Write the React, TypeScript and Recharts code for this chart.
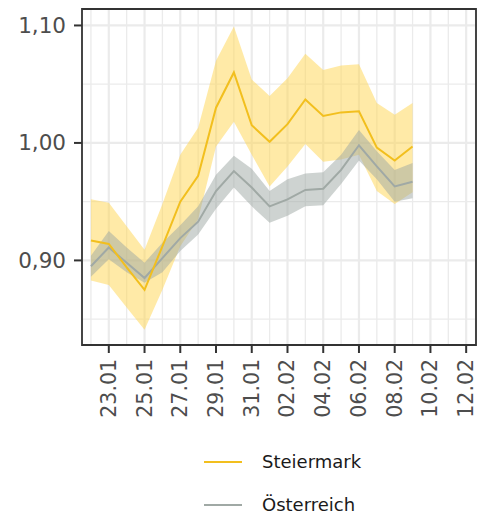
import React from "react";
import { ComposedChart, Area, Line, XAxis, YAxis, CartesianGrid, ReferenceArea } from "recharts";

// days since 22.01, labels for every day shown on the axis
const dayLabels = [
  "22.01", "23.01", "24.01", "25.01", "26.01", "27.01", "28.01", "29.01", "30.01", "31.01", "01.02",
  "02.02", "03.02", "04.02", "05.02", "06.02", "07.02", "08.02", "09.02", "10.02", "11.02", "12.02"
];

const steiermark = [0.917, 0.914, 0.894, 0.875, 0.912, 0.95, 0.972, 1.03, 1.06, 1.015, 1.001, 1.016, 1.037, 1.023, 1.026, 1.027, 0.996, 0.985, 0.997];
const steiermarkLo = [0.883, 0.879, 0.86, 0.841, 0.875, 0.912, 0.935, 0.997, 1.018, 0.99, 0.963, 0.98, 0.999, 0.984, 0.986, 0.99, 0.959, 0.948, 0.958];
const steiermarkHi = [0.952, 0.949, 0.929, 0.909, 0.948, 0.99, 1.013, 1.07, 1.099, 1.054, 1.04, 1.055, 1.076, 1.062, 1.066, 1.067, 1.034, 1.024, 1.034];

const oesterreich = [0.895, 0.911, 0.898, 0.885, 0.902, 0.919, 0.933, 0.959, 0.976, 0.962, 0.946, 0.952, 0.96, 0.961, 0.977, 0.998, 0.98, 0.963, 0.967];
const oesterreichLo = [0.886, 0.901, 0.89, 0.881, 0.89, 0.908, 0.922, 0.944, 0.962, 0.946, 0.932, 0.938, 0.946, 0.947, 0.965, 0.985, 0.969, 0.95, 0.953];
const oesterreichHi = [0.904, 0.925, 0.911, 0.898, 0.915, 0.93, 0.946, 0.973, 0.989, 0.978, 0.959, 0.969, 0.974, 0.975, 0.99, 1.011, 0.993, 0.977, 0.983];

const xDomain = [-0.5, 21.55];
const yDomain = [0.828, 1.114];
const yTicks = [0.85, 0.9, 0.95, 1.0, 1.05, 1.1];
const yLabelled = [0.9, 1.0, 1.1];

const data = steiermark.map((v, i) => ({
  day: i,
  stm: v,
  stmBand: [steiermarkLo[i], steiermarkHi[i]],
  oe: oesterreich[i],
  oeBand: [oesterreichLo[i], oesterreichHi[i]]
}));

const YELLOW = "#F2BF1E";
const GREY = "#A0A9A5";
const FONT = "'DejaVu Sans', sans-serif";

const XTick = ({ x, y, payload }: any) => {
  if (payload.value % 2 === 0) return null;
  return (
    <g>
      <line x1={x} x2={x} y1={y - 8} y2={y} stroke="#333" strokeWidth={2} />
      <text
        x={x}
        y={y + 6}
        transform={`rotate(-90, ${x}, ${y + 6})`}
        textAnchor="end"
        dominantBaseline="central"
        fontSize={20.5}
        fontFamily={FONT}
        fill="#4D4D4D"
      >
        {dayLabels[payload.value]}
      </text>
    </g>
  );
};

const YTick = ({ x, y, payload }: any) => {
  if (!yLabelled.some(t => Math.abs(t - payload.value) < 1e-6)) return null;
  return (
    <g>
      <line x1={x} x2={x + 8} y1={y} y2={y} stroke="#333" strokeWidth={2} />
      <text
        x={x - 8}
        y={y}
        textAnchor="end"
        dominantBaseline="central"
        fontSize={21.5}
        fontFamily={FONT}
        fill="#4D4D4D"
      >
        {payload.value.toFixed(2).replace(".", ",")}
      </text>
    </g>
  );
};

// major grid lines (labelled ticks) sit on odd indices for both axes
const gridLine = (props: any) => {
  const major = props.index % 2 === 1;
  return (
    <line
      key={props.key}
      x1={props.x1}
      y1={props.y1}
      x2={props.x2}
      y2={props.y2}
      stroke="#EBEBEB"
      strokeWidth={major ? 2.2 : 1.3}
    />
  );
};

const LegendRow = ({ color, label, top }: { color: string; label: string; top: number }) => (
  <div style={{ position: "absolute", left: 204, top, display: "flex", alignItems: "center" }}>
    <div style={{ width: 38, height: 2.5, backgroundColor: color }} />
    <span style={{ marginLeft: 20, fontSize: 18, fontFamily: FONT, color: "#1a1a1a", lineHeight: "20px" }}>
      {label}
    </span>
  </div>
);

export default function App() {
  return (
    <div style={{ position: "relative", width: 477, height: 517, overflow: "hidden", background: "#fff" }}>
      <style>{"body{margin:0}"}</style>
      <ComposedChart width={477} height={517} data={data} margin={{ top: 9, right: 1, left: 0, bottom: 0 }}>
        <CartesianGrid horizontal={gridLine} vertical={gridLine} />
        <XAxis
          type="number"
          dataKey="day"
          domain={xDomain}
          ticks={dayLabels.map((_, i) => i)}
          interval={0}
          tick={<XTick />}
          tickLine={false}
          axisLine={false}
          height={172}
          allowDataOverflow
        />
        <YAxis
          type="number"
          domain={yDomain}
          ticks={yTicks}
          interval={0}
          tick={<YTick />}
          tickLine={false}
          axisLine={false}
          width={82}
          allowDataOverflow
        />
        <Area dataKey="stmBand" stroke="none" fill="#FFD54F" fillOpacity={0.5} isAnimationActive={false} />
        <Area dataKey="oeBand" stroke="none" fill="#9DA8A3" fillOpacity={0.5} isAnimationActive={false} />
        <Line dataKey="oe" stroke={GREY} strokeWidth={2} dot={false} isAnimationActive={false} />
        <Line dataKey="stm" stroke={YELLOW} strokeWidth={2} dot={false} isAnimationActive={false} />
        {/* panel border */}
        <ReferenceArea
          x1={xDomain[0]}
          x2={xDomain[1]}
          y1={yDomain[0]}
          y2={yDomain[1]}
          fill="none"
          fillOpacity={0}
          stroke="#333333"
          strokeWidth={1.8}
          ifOverflow="visible"
        />
      </ComposedChart>
      <LegendRow color={YELLOW} label="Steiermark" top={452} />
      <LegendRow color={GREY} label="Österreich" top={495} />
    </div>
  );
}
